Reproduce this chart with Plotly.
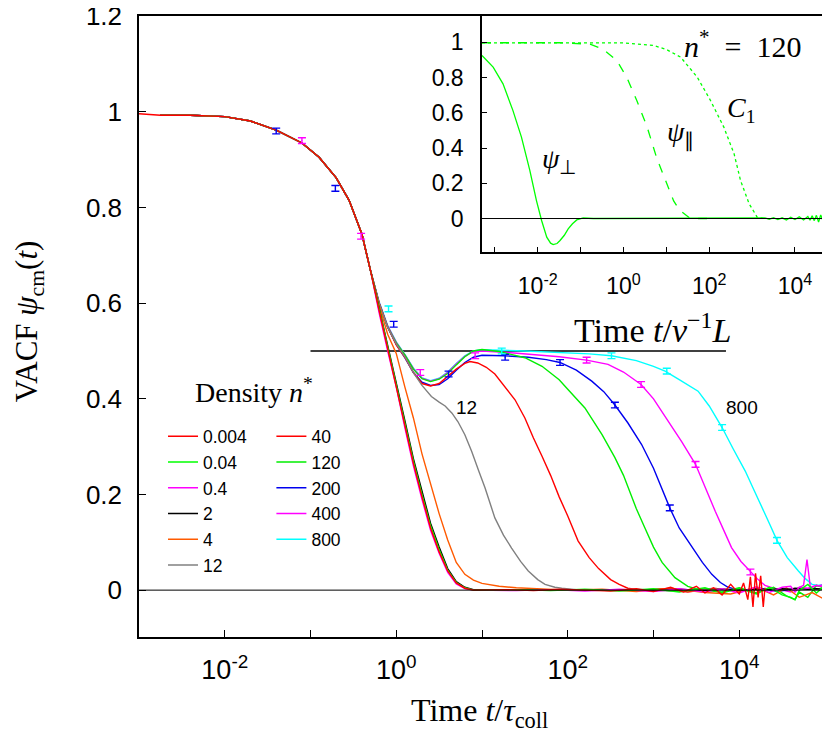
import plotly.graph_objects as go

# ---- data (time given as log10 exponent) ----
# common start shared by all densities
head_lt = [-2.75, -2.4, -2.0, -1.7, -1.4, -1.1, -0.9, -0.7, -0.55, -0.4, -0.3]
head_v = [0.993, 0.993, 0.990, 0.981, 0.962, 0.935, 0.905, 0.862, 0.815, 0.744, 0.668]

# low densities: fast decay
low_lt = [-0.2, -0.1, 0.0, 0.1, 0.2, 0.3, 0.4, 0.5, 0.6, 0.7, 0.8, 0.9]
v_0004 = [0.585, 0.505, 0.43, 0.345, 0.265, 0.195, 0.13, 0.08, 0.04, 0.015, 0.004, 0.0]
v_004 = [0.588, 0.51, 0.435, 0.35, 0.27, 0.2, 0.135, 0.085, 0.042, 0.016, 0.005, 0.0]
v_04 = [0.58, 0.50, 0.425, 0.34, 0.26, 0.19, 0.125, 0.077, 0.037, 0.013, 0.003, 0.0]
v_2 = [0.59, 0.515, 0.44, 0.355, 0.275, 0.207, 0.14, 0.09, 0.045, 0.018, 0.006, 0.001]

# long-time noise of the low densities
tail_lt_0004 = [1.0, 1.3, 1.6, 1.9, 2.2, 2.5, 2.8, 3.0, 3.2, 3.35, 3.5, 3.6, 3.7, 3.8, 3.9, 4.0,
                4.05, 4.1, 4.13, 4.16, 4.19, 4.22, 4.25, 4.28, 4.3]
tail_v_0004 = [0.0, 0.001, -0.001, 0.002, 0.0, -0.002, 0.003, -0.003, 0.006, -0.004, 0.008, -0.006,
               0.005, -0.01, 0.012, -0.008, 0.015, -0.02, 0.028, -0.035, 0.035, -0.015, 0.03, -0.035, 0.005]
tail_lt = [1.0, 1.4, 1.8, 2.2, 2.6, 3.0, 3.3, 3.6, 3.8, 4.0, 4.2, 4.35, 4.5, 4.6, 4.65, 4.7, 4.8, 4.9, 5.0]
tail_v_004 = [0.0, 0.001, -0.001, 0.002, -0.002, 0.003, -0.004, 0.005, -0.006, 0.004, -0.008, 0.006,
              -0.01, -0.015, -0.02, 0.0, 0.012, -0.006, 0.01]
tail_v_04 = [0.0, -0.001, 0.001, -0.002, 0.002, -0.003, 0.003, -0.004, 0.003, -0.006, 0.007, -0.005,
             0.006, 0.008, -0.004, 0.006, 0.004, 0.01, 0.006]
tail_v_2 = [0.001, 0.0, 0.001, 0.0, 0.001, 0.0, 0.002, -0.001, 0.002, 0.0, 0.002, 0.001,
            0.003, 0.002, 0.004, 0.003, 0.002, 0.003, 0.002]

# density 4
lt_4 = [-0.2, -0.1, 0.0, 0.1, 0.2, 0.3, 0.4, 0.5, 0.6, 0.7, 0.8, 0.9, 1.0, 1.2, 1.4, 1.7, 2.0, 2.4, 2.8,
        3.2, 3.6, 3.9, 4.2, 4.4, 4.55, 4.7, 4.85, 5.0]
v_4 = [0.595, 0.535, 0.495, 0.425, 0.36, 0.285, 0.22, 0.16, 0.105, 0.058, 0.033, 0.021, 0.014, 0.008,
       0.005, 0.002, 0.0, 0.002, -0.003, 0.004, -0.005, -0.008, 0.006, -0.01, 0.005, -0.015, -0.005, -0.02]

# density 12
lt_12 = [-0.2, -0.1, 0.0, 0.1, 0.2, 0.3, 0.41, 0.5, 0.57, 0.65, 0.72, 0.8, 0.88, 0.96, 1.035, 1.15, 1.25,
         1.345, 1.45, 1.54, 1.65, 1.735, 1.85, 1.93, 2.1, 2.4, 2.8, 3.2, 3.6, 4.0]
v_12 = [0.60, 0.55, 0.515, 0.488, 0.455, 0.428, 0.405, 0.393, 0.385, 0.37, 0.352, 0.325, 0.29, 0.25,
        0.214, 0.151, 0.115, 0.088, 0.06, 0.040, 0.022, 0.012, 0.006, 0.004, 0.001, 0.0, 0.002, -0.002,
        0.003, 0.001]

# density 40
lt_40 = [-0.2, -0.1, 0.0, 0.1, 0.2, 0.3, 0.4, 0.5, 0.6, 0.7, 0.8, 0.86, 0.95, 1.05, 1.15, 1.27, 1.385,
         1.5, 1.6, 1.7, 1.8, 1.9, 2.0, 2.12, 2.25, 2.36, 2.5, 2.6, 2.7, 2.85, 3.1, 3.4, 3.7, 4.0]
v_40 = [0.60, 0.55, 0.513, 0.487, 0.455, 0.432, 0.427, 0.432, 0.447, 0.462, 0.474, 0.478, 0.475, 0.466,
        0.452, 0.425, 0.398, 0.36, 0.318, 0.28, 0.24, 0.195, 0.155, 0.103, 0.068, 0.045, 0.022, 0.012,
        0.004, 0.0, 0.003, -0.004, 0.004, -0.002]

# density 120
lt_120 = [-0.2, -0.1, 0.0, 0.1, 0.2, 0.3, 0.4, 0.5, 0.6, 0.7, 0.8, 0.9, 1.0, 1.2, 1.5, 1.7, 1.9, 2.0,
          2.2, 2.4, 2.55, 2.65, 2.8, 2.9, 3.0, 3.1, 3.25, 3.4, 3.55, 3.8, 4.0, 4.2, 4.4, 4.55, 4.65, 4.7,
          4.8, 4.9, 5.0]
v_120 = [0.60, 0.55, 0.517, 0.492, 0.462, 0.442, 0.436, 0.441, 0.453, 0.471, 0.488, 0.5, 0.503, 0.499,
         0.486, 0.468, 0.44, 0.42, 0.381, 0.325, 0.277, 0.24, 0.17, 0.13, 0.09, 0.058, 0.026, 0.008, 0.0,
         -0.004, 0.005, -0.006, 0.006, -0.012, -0.02, -0.004, -0.015, 0.01, 0.004]

# density 200
lt_200 = [-0.2, -0.1, 0.0, 0.1, 0.2, 0.3, 0.4, 0.5, 0.6, 0.7, 0.8, 0.9, 1.0, 1.25, 1.54, 1.75, 1.91, 2.1,
          2.28, 2.42, 2.55, 2.7, 2.86, 3.0, 3.1, 3.19, 3.3, 3.45, 3.57, 3.68, 3.78, 3.87, 3.95, 4.05,
          4.25, 4.45, 4.6]
v_200 = [0.60, 0.55, 0.514, 0.486, 0.455, 0.435, 0.428, 0.43, 0.442, 0.46, 0.476, 0.487, 0.491, 0.49,
         0.487, 0.482, 0.476, 0.46, 0.437, 0.415, 0.387, 0.35, 0.305, 0.255, 0.21, 0.172, 0.13, 0.089,
         0.058, 0.033, 0.016, 0.006, 0.002, 0.0, 0.004, -0.003, 0.002]

# density 400
lt_400 = [-0.2, -0.1, 0.0, 0.1, 0.2, 0.3, 0.4, 0.5, 0.6, 0.7, 0.8, 0.9, 1.0, 1.3, 1.58, 1.9, 2.22, 2.47,
          2.65, 2.855, 3.0, 3.17, 3.33, 3.49, 3.6, 3.72, 3.82, 3.91, 4.02, 4.13, 4.22, 4.3, 4.4, 4.5,
          4.6, 4.7, 4.75, 4.79, 4.83, 4.9, 5.0]
v_400 = [0.602, 0.552, 0.518, 0.492, 0.463, 0.443, 0.437, 0.442, 0.455, 0.473, 0.489, 0.499, 0.50,
         0.497, 0.493, 0.488, 0.481, 0.472, 0.456, 0.43, 0.40, 0.354, 0.31, 0.263, 0.215, 0.165, 0.125,
         0.089, 0.06, 0.038, 0.022, 0.010, 0.004, 0.0, -0.004, 0.006, 0.01, 0.064, 0.005, 0.008, 0.012]

# density 800
lt_800 = [-0.2, -0.1, 0.0, 0.1, 0.2, 0.3, 0.4, 0.5, 0.6, 0.7, 0.8, 0.9, 1.0, 1.5, 1.97, 2.25, 2.51, 2.8,
          3.0, 3.135, 3.3, 3.52, 3.65, 3.80, 3.93, 4.07, 4.17, 4.25, 4.35, 4.44, 4.56, 4.69, 4.77, 4.85,
          4.92, 5.0]
v_800 = [0.603, 0.553, 0.519, 0.493, 0.464, 0.444, 0.438, 0.443, 0.456, 0.474, 0.49, 0.5, 0.503, 0.50,
         0.497, 0.494, 0.490, 0.48, 0.468, 0.458, 0.44, 0.416, 0.385, 0.340, 0.295, 0.249, 0.21, 0.18,
         0.14, 0.104, 0.068, 0.040, 0.024, 0.012, 0.01, 0.012]

# error bar samples (log10 t, value)
eb_200_lt = [-1.4, -0.71, -0.03, 0.61, 1.27, 1.91, 2.55, 3.19]
eb_200_v = [0.96, 0.84, 0.556, 0.452, 0.487, 0.476, 0.387, 0.172]
eb_400_lt = [-1.1, -0.41, 0.28, 0.92, 2.22, 2.855, 3.49, 4.13]
eb_400_v = [0.94, 0.74, 0.455, 0.49, 0.481, 0.43, 0.263, 0.038]
eb_800_lt = [-0.09, 1.23, 2.51, 3.155, 3.80, 4.44]
eb_800_v = [0.588, 0.5, 0.49, 0.458, 0.34, 0.104]

# inset, n* = 120
perp_lt = [-3.3, -3.04, -2.81, -2.58, -2.38, -2.185, -2.03, -1.91, -1.79, -1.7, -1.64, -1.55, -1.48,
           -1.38, -1.29, -1.19, -1.09, -0.94, -0.7, 0.0, 1.0, 2.0, 3.0, 3.3, 3.4, 3.5, 3.6, 3.7, 3.8,
           3.9, 4.0, 4.1, 4.2, 4.3, 4.35, 4.4, 4.45, 4.5, 4.55, 4.6, 4.65, 4.7]
perp_v = [0.926, 0.86, 0.765, 0.614, 0.462, 0.273, 0.102, -0.011, -0.106, -0.14, -0.148, -0.142, -0.125,
          -0.095, -0.059, -0.03, -0.008, 0.003, 0.0, 0.0, 0.0, 0.0, 0.0, 0.003, -0.004, 0.005, -0.006,
          0.004, -0.008, 0.007, -0.006, 0.01, -0.008, 0.012, -0.01, 0.015, -0.012, 0.018, -0.02, 0.02,
          -0.01, 0.015]
par_lt = [-3.3, -1.5, -0.78, -0.47, -0.156, 0.08, 0.31, 0.55, 0.78, 1.02, 1.17, 1.3, 1.41, 1.56, 2.0]
par_v = [0.998, 0.998, 0.99, 0.96, 0.898, 0.80, 0.67, 0.52, 0.34, 0.19, 0.10, 0.05, 0.027, 0.0, 0.0]
c1_lt = [-3.3, 0.0, 0.7, 1.0, 1.33, 1.72, 2.03, 2.34, 2.58, 2.73, 2.93, 3.12, 3.3]
c1_v = [0.998, 0.997, 0.983, 0.96, 0.917, 0.803, 0.67, 0.519, 0.367, 0.216, 0.084, 0.007, 0.0]


def tt(lst):
    return [10 ** e for e in lst]


SANS = "Liberation Sans, Arial, sans-serif"
SERIF = "Liberation Serif, Times New Roman, serif"
LW = 1.4

fig = go.Figure()

series = [
    ("0.004", "#ff0000", [-3.0] + head_lt + low_lt + tail_lt_0004, [0.996] + head_v + v_0004 + tail_v_0004, "legend"),
    ("0.04", "#00ff00", head_lt + low_lt + tail_lt, head_v + v_004 + tail_v_004, "legend"),
    ("0.4", "#ff00ff", head_lt + low_lt + tail_lt, head_v + v_04 + tail_v_04, "legend"),
    ("2", "#000000", head_lt + low_lt + tail_lt, head_v + v_2 + tail_v_2, "legend"),
    ("4", "#ff5a00", head_lt + lt_4, head_v + v_4, "legend"),
    ("12", "#808080", head_lt + lt_12, head_v + v_12, "legend"),
    ("40", "#ff0000", head_lt + lt_40, head_v + v_40, "legend2"),
    ("120", "#00ee00", head_lt + lt_120, head_v + v_120, "legend2"),
    ("200", "#0000ee", head_lt + lt_200, head_v + v_200, "legend2"),
    ("400", "#ff00ff", head_lt + lt_400, head_v + v_400, "legend2"),
    ("800", "#00ffff", head_lt + lt_800, head_v + v_800, "legend2"),
]

# reference line at 0.5
fig.add_trace(go.Scatter(x=[0.1, 7000], y=[0.5, 0.5], mode="lines",
                         line=dict(color="black", width=1.5), showlegend=False, hoverinfo="skip"))

# draw higher densities first so the low ones sit on top like the original
for name, col, lt, v, lg in reversed(series):
    fig.add_trace(go.Scatter(x=tt(lt), y=v, mode="lines", name=name, legend=lg,
                             line=dict(color=col, width=LW)))

for lt, v, col in [(eb_200_lt, eb_200_v, "#0000ee"), (eb_400_lt, eb_400_v, "#ff00ff"),
                   (eb_800_lt, eb_800_v, "#00ffff")]:
    fig.add_trace(go.Scatter(x=tt(lt), y=v, mode="markers", showlegend=False,
                             marker=dict(size=1, color=col),
                             error_y=dict(type="constant", value=0.006, width=4, thickness=1.4, color=col)))

# inset
for lt, v, dash in [(c1_lt, c1_v, "dot"), (par_lt, par_v, "dash"), (perp_lt, perp_v, "solid")]:
    fig.add_trace(go.Scatter(x=tt(lt), y=v, mode="lines", xaxis="x2", yaxis="y2", showlegend=False,
                             line=dict(color="#00ff00", width=1.3, dash=dash)))

dec_vals = [1e-3, 1e-2, 1e-1, 1, 10, 100, 1e3, 1e4, 1e5]
dec_txt = ["", "10<sup>-2</sup>", "", "10<sup>0</sup>", "", "10<sup>2</sup>", "", "10<sup>4</sup>", ""]

axis_common = dict(showline=True, linecolor="black", linewidth=1.5, mirror=True, ticks="inside",
                   tickcolor="black", showgrid=False, zeroline=False, ticklabeloverflow="allow",
                   automargin=False)

legend_style = dict(xanchor="left", yanchor="top", bgcolor="rgba(0,0,0,0)",
                    font=dict(family=SANS, size=17.5, color="black"), itemwidth=30,
                    tracegroupgap=0, traceorder="reversed")

fig.update_layout(
    width=830, height=734, autosize=False,
    # the page adds an 8px body margin, so the plot box is shifted back by that much
    margin=dict(l=131, r=13, t=8, b=105, autoexpand=False),
    plot_bgcolor="white", paper_bgcolor="white",
    xaxis=dict(type="log", range=[-3, 5], tickvals=dec_vals, ticktext=dec_txt, ticklen=7,
               ticklabelstandoff=8,
               tickfont=dict(family=SANS, size=27, color="black"), **axis_common),
    yaxis=dict(range=[-0.098, 1.2005], tickvals=[0, 0.2, 0.4, 0.6, 0.8, 1, 1.2],
               ticktext=["0", "0.2", "0.4", "0.6", "0.8", "1", "1.2"], ticklen=7,
               ticklabelstandoff=10,
               tickfont=dict(family=SANS, size=26, color="black"), **axis_common),
    xaxis2=dict(type="log", range=[-3.3, 4.7], domain=[0.5, 1], anchor="y2", tickvals=dec_vals,
                ticktext=dec_txt, ticklen=5, ticklabelstandoff=13,
                tickfont=dict(family=SANS, size=23, color="black"), **axis_common),
    yaxis2=dict(range=[-0.19, 1.15], domain=[0.62, 1], anchor="x2",
                tickvals=[0, 0.2, 0.4, 0.6, 0.8, 1], ticktext=["0", "0.2", "0.4", "0.6", "0.8", "1"],
                ticklen=5, ticklabelstandoff=12,
                tickfont=dict(family=SANS, size=23, color="black"), **axis_common),
    legend=dict(x=0.035, y=0.352, **legend_style),
    legend2=dict(x=0.193, y=0.352, **legend_style),
    shapes=[
        dict(type="line", xref="x domain", yref="y", x0=0, x1=1, y0=0, y1=0,
             line=dict(color="black", width=1)),
        dict(type="line", xref="x2 domain", yref="y2", x0=0, x1=1, y0=0, y1=0,
             line=dict(color="black", width=1)),
    ],
)

ann = [
    ("Time <i>t</i>/<i>τ</i><sub>coll</sub>", 0.497, -0.122, 32, SERIF, 0),
    ("VACF <i>ψ</i><sub>cm</sub>(<i>t</i>)", -0.16, 0.509, 31, SERIF, -90),
    ("Time <i>t</i>/<i>v</i><sup>−1</sup><i>L</i>", 0.749, 0.4976, 34, SERIF, 0),
    ("Density <i>n</i><sup>*</sup>", 0.167, 0.397, 28, SERIF, 0),
    ("12", 0.478, 0.369, 19, SANS, 0),
    ("800", 0.879, 0.369, 19, SANS, 0),
    ("<i>n</i><sup>*</sup>&nbsp;&nbsp;=&nbsp;&nbsp;120", 0.880, 0.955, 30, SERIF, 0),
    ("<i>C</i><sub>1</sub>", 0.878, 0.850, 28, SERIF, 0),
    ("<i>ψ</i><sub>∥</sub>", 0.789, 0.810, 28, SERIF, 0),
    ("<i>ψ</i><sub>⊥</sub>", 0.612, 0.767, 28, SERIF, 0),
]
for text, x, y, size, fam, ang in ann:
    fig.add_annotation(text=text, x=x, y=y, xref="paper", yref="paper", showarrow=False,
                       xanchor="center", yanchor="middle", textangle=ang,
                       font=dict(family=fam, size=size, color="black"))

fig.write_html("out.html")
